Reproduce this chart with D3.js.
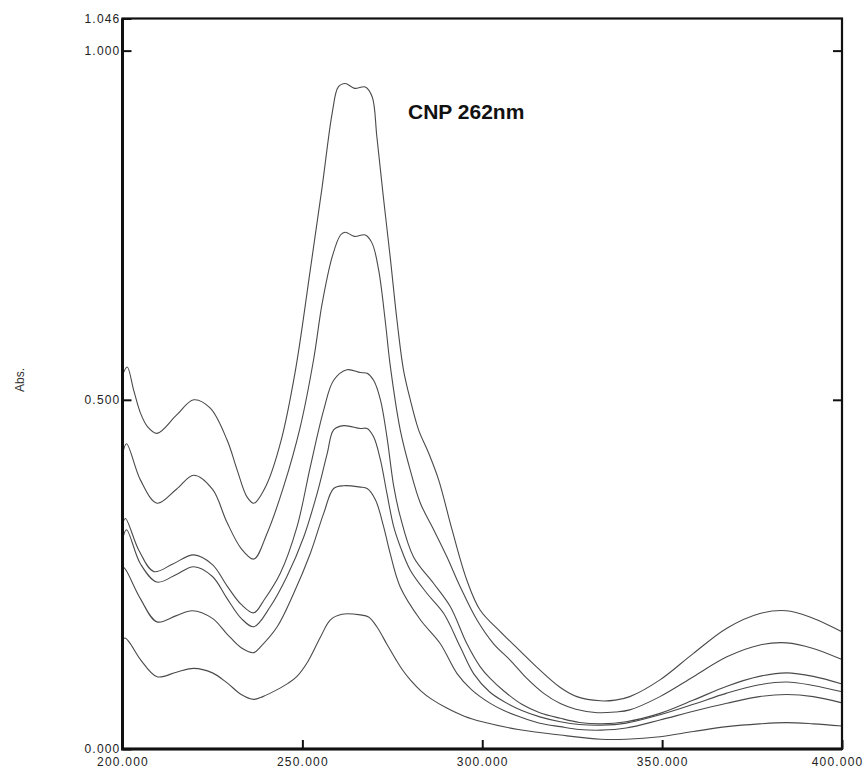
<!DOCTYPE html>
<html>
<head>
<meta charset="utf-8">
<script src="https://cdn.jsdelivr.net/npm/d3@7"></script>
<style>
  body { margin: 0; background: #fff; }
  svg { display: block; font-family: "Liberation Sans", Arial, sans-serif; }
</style>
</head>
<body>
<div id="chart"></div>
<script>
// x ticks (nm) and y ticks (Abs.)
const xTicks = [200, 250, 300, 350, 400];
const yTicks = [0, 0.5, 1.0, 1.046];

// spectra: [wavelength nm, absorbance]
const s1 = [[200,0.535],[201.3,0.547],[203.1,0.514],[205,0.481],[206.9,0.462],[209.6,0.452],[215,0.478],[219.8,0.500],[224.4,0.488],[229.1,0.442],[231.9,0.399],[234.6,0.361],[236.5,0.352],[240,0.378],[244,0.440],[248,0.540],[252.2,0.686],[255.5,0.805],[258.3,0.911],[260,0.948],[261.9,0.953],[264.5,0.946],[267.5,0.948],[269.4,0.934],[270.7,0.877],[272.5,0.791],[274.4,0.705],[276.3,0.614],[278.1,0.543],[280,0.500],[282.3,0.457],[285,0.425],[287.9,0.385],[291.6,0.314],[295.7,0.242],[299.4,0.199],[305,0.168],[310,0.143],[315,0.118],[321.7,0.088],[326.3,0.075],[332.8,0.069],[337,0.070],[341,0.075],[349.4,0.099],[358.7,0.137],[368,0.173],[377.2,0.194],[384.5,0.198],[391.1,0.189],[400,0.168]];
const s2 = [[200,0.421],[201.1,0.437],[205,0.385],[209.6,0.352],[215,0.372],[219.8,0.392],[225,0.372],[229,0.325],[233,0.287],[236.5,0.272],[240.2,0.309],[244.8,0.376],[249.4,0.461],[253.1,0.557],[255.5,0.638],[258.3,0.705],[260.6,0.736],[261.9,0.740],[264.5,0.734],[267.5,0.736],[269.4,0.724],[271.2,0.686],[273.1,0.610],[274.4,0.550],[277.2,0.457],[280,0.399],[282.8,0.352],[286.5,0.314],[290.2,0.275],[293.9,0.232],[298.5,0.185],[303.1,0.151],[307.8,0.127],[312.4,0.101],[317,0.080],[321.7,0.065],[326,0.057],[332,0.052],[337,0.053],[341,0.056],[349.4,0.075],[358.7,0.1035],[368,0.132],[377.2,0.149],[384.6,0.152],[392,0.144],[400,0.128]];
const s3 = [[200,0.321],[200.8,0.330],[204.5,0.285],[208.7,0.254],[214,0.265],[219.8,0.278],[225,0.264],[229,0.234],[233,0.207],[236.5,0.195],[239.3,0.213],[243.9,0.252],[248.5,0.318],[252.2,0.404],[255.9,0.485],[258.7,0.528],[262.4,0.543],[266.1,0.539],[268,0.538],[269.8,0.528],[271.7,0.500],[273.5,0.447],[275.4,0.376],[277.2,0.333],[280.9,0.275],[286.5,0.237],[291.1,0.204],[295.7,0.151],[299.4,0.118],[302.2,0.101],[306,0.083],[311,0.064],[316,0.052],[321.7,0.044],[327,0.038],[333,0.036],[340,0.039],[349.4,0.051],[358.7,0.070],[368,0.090],[377,0.104],[384.6,0.109],[392,0.104],[400,0.093]];
const s4 = [[200,0.299],[201.1,0.314],[205,0.265],[209.6,0.239],[215,0.250],[219.8,0.261],[225,0.247],[229,0.216],[233,0.187],[236.5,0.175],[241.1,0.204],[245.7,0.247],[250.4,0.304],[254.1,0.366],[256.9,0.423],[258.7,0.457],[261.5,0.463],[266.1,0.459],[268,0.459],[269.8,0.447],[271.7,0.414],[273.5,0.366],[275.4,0.318],[277.2,0.290],[280,0.256],[284.6,0.223],[289.3,0.194],[293.9,0.146],[297.6,0.108],[302,0.082],[306,0.068],[311,0.055],[316,0.046],[321.7,0.039],[327,0.035],[333,0.034],[340,0.037],[349.4,0.049],[358.7,0.064],[368,0.080],[377,0.092],[384.6,0.096],[392,0.091],[400,0.082]];
const s5 = [[200,0.262],[201,0.256],[205,0.215],[209.6,0.182],[215,0.191],[219.4,0.198],[225,0.187],[229,0.165],[233,0.145],[236.5,0.138],[238.3,0.146],[243,0.175],[247.6,0.223],[252.2,0.280],[255.9,0.337],[258.7,0.373],[261.5,0.377],[266.1,0.375],[268,0.373],[270.3,0.357],[272.6,0.318],[274.4,0.280],[277.2,0.232],[282.8,0.185],[288.3,0.151],[293,0.108],[297,0.085],[302,0.066],[306,0.055],[311,0.045],[316,0.037],[321.7,0.032],[327,0.028],[333,0.027],[340,0.030],[349.4,0.0415],[358.7,0.054],[368,0.0654],[377,0.075],[384.6,0.078],[392,0.075],[400,0.066]];
const s6 = [[200,0.156],[200.7,0.159],[202,0.152],[205,0.128],[209.6,0.1035],[215,0.110],[219.8,0.1155],[225,0.109],[229,0.095],[233,0.078],[236.5,0.071],[239,0.075],[243,0.085],[246,0.094],[248.5,0.104],[251.5,0.125],[255,0.160],[257.8,0.185],[261,0.193],[266.1,0.192],[268.4,0.189],[270.7,0.175],[273.5,0.150],[276,0.128],[278,0.112],[280,0.099],[283,0.083],[286,0.071],[290,0.059],[295,0.047],[300,0.039],[310,0.028],[321.7,0.020],[333,0.014],[340,0.014],[349.4,0.0176],[358.7,0.025],[368,0.032],[377,0.036],[384.6,0.0377],[392,0.036],[400,0.033]];
const series = [s1, s2, s3, s4, s5, s6];

const width = 866, height = 770;
const margin = { top: 18.5, right: 24, bottom: 21, left: 122.5 };
const w = width - margin.left - margin.right;
const h = height - margin.top - margin.bottom;

const svg = d3.select("#chart").append("svg")
  .attr("width", width)
  .attr("height", height);

const g = svg.append("g")
  .attr("transform", `translate(${margin.left},${margin.top})`);

const x = d3.scaleLinear().domain([200, 400]).range([0, w]);
const y = d3.scaleLinear().domain([0, 1.046]).range([h, 0]);

const line = d3.line()
  .x(d => x(d[0]))
  .y(d => y(d[1]))
  .curve(d3.curveCatmullRom.alpha(0.5));

g.selectAll(".spec")
  .data(series)
  .join("path")
  .attr("class", "spec")
  .attr("fill", "none")
  .attr("stroke", "#4a4a4a")
  .attr("stroke-width", 1.1)
  .attr("d", line);

// axes
const fmt = d3.format(".3f");

g.append("g")
  .call(d3.axisLeft(y).tickValues(yTicks).tickFormat(fmt).tickSizeInner(-9).tickSizeOuter(0).tickPadding(2));

g.append("g")
  .attr("transform", `translate(${w},0)`)
  .call(d3.axisRight(y).tickValues([0.5, 1.0]).tickFormat("").tickSizeInner(-9).tickSizeOuter(0));

const xAxis = g.append("g")
  .attr("transform", `translate(0,${h})`)
  .call(d3.axisBottom(x).tickValues(xTicks).tickFormat(fmt).tickSizeInner(-9).tickSizeOuter(0).tickPadding(8));

svg.selectAll(".domain").remove();
svg.selectAll(".tick line").attr("stroke", "#111").attr("stroke-width", 2);
svg.selectAll(".tick text")
  .attr("font-family", "'Liberation Sans', Arial, sans-serif")
  .attr("font-size", "12px")
  .attr("letter-spacing", "1.2px")
  .attr("fill", "#222");

// last x label is pushed inside the page
xAxis.selectAll(".tick text").filter(d => d === 400)
  .attr("text-anchor", "end")
  .attr("x", width - margin.left - w - 3);

// frame
g.append("rect")
  .attr("width", w)
  .attr("height", h)
  .attr("fill", "none")
  .attr("stroke", "#111")
  .attr("stroke-width", 2.2);

g.append("path")
  .attr("d", `M0,0V${h}H${w}`)
  .attr("fill", "none")
  .attr("stroke", "#111")
  .attr("stroke-width", 3);

// labels
svg.append("text")
  .attr("transform", `translate(24,380) rotate(-90)`)
  .attr("text-anchor", "middle")
  .attr("font-size", "12px")
  .attr("fill", "#333")
  .text("Abs.");

svg.append("text")
  .attr("x", 408)
  .attr("y", 119)
  .attr("font-size", "21px")
  .attr("font-weight", "700")
  .attr("fill", "#111")
  .text("CNP 262nm");
</script>
</body>
</html>
